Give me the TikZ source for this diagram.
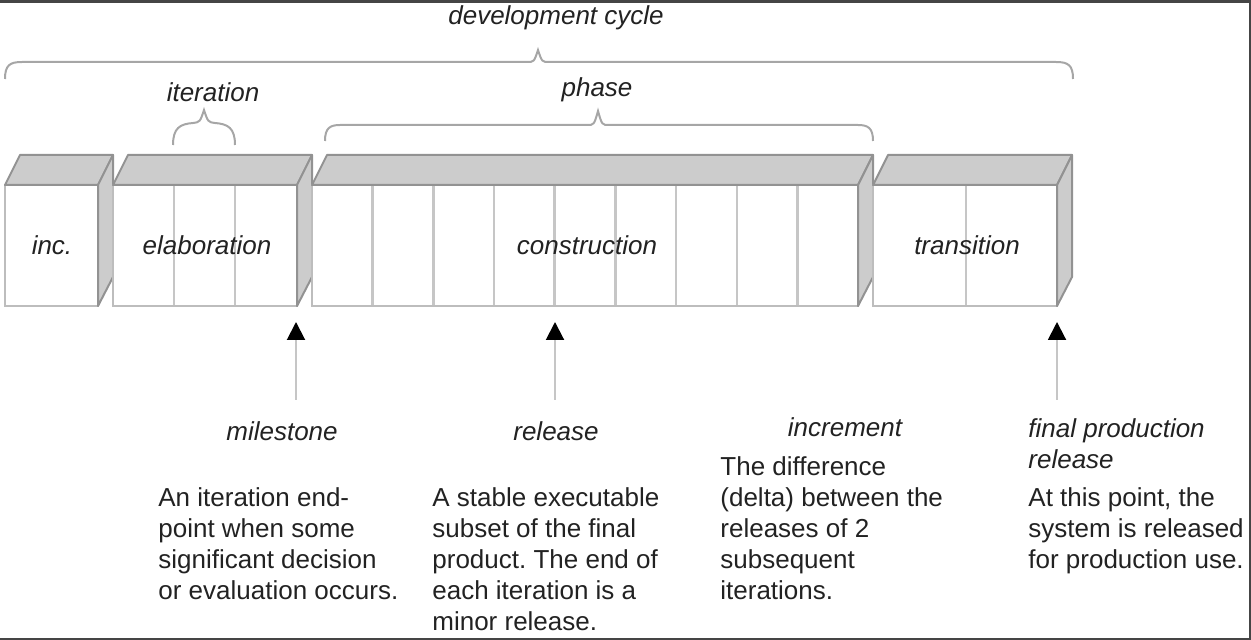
\documentclass[tikz,border=0pt]{standalone}
\usepackage{fontspec}
\setmainfont{Liberation Sans}
\usetikzlibrary{arrows.meta}
\frenchspacing
\definecolor{facegray}{HTML}{CCCCCC}
\definecolor{edgegray}{HTML}{929292}
\definecolor{frontgray}{HTML}{BDBDBD}
\definecolor{linegray}{HTML}{C6C6C6}
\definecolor{bracegray}{HTML}{A6A6A6}
\definecolor{framegray}{HTML}{454545}
\definecolor{inkgray}{HTML}{222222}
\tikzset{
  phaselabel/.style={font=\fontsize{13}{15.5}\selectfont\itshape, text=inkgray, inner sep=0pt},
  desc/.style={font=\fontsize{13}{15.5}\selectfont, text=inkgray, align=left, anchor=north west, inner sep=0pt},
  topface/.style={fill=facegray, draw=edgegray, line width=1pt, line join=round},
  frontface/.style={fill=white, draw=frontgray, line width=1pt},
  iterline/.style={draw=linegray, line width=1.2pt},
  brace/.style={draw=bracegray, line width=1pt},
  pointer/.style={draw=linegray, line width=1pt, -{Triangle[width=9pt,length=9pt,black]}}
}
\begin{document}
\begin{tikzpicture}[x=0.5pt,y=-0.5pt]
\useasboundingbox (0,0) rectangle (1251,640);
% frame
\fill[framegray] (0,0) rectangle (1251,3.5);
\draw[framegray, line width=1pt] (1249.5,3) -- (1249.5,640);
\draw[framegray, line width=1pt] (0,638.5) -- (1251,638.5);

% the four phases as boxes
\foreach \xa/\xb in {5/98, 113/297, 312/858, 873/1057}{
  \draw[frontface] (\xa,185) rectangle (\xb,306);
  \draw[topface] (\xa,185) -- ({\xa+15},155) -- ({\xb+15},155) -- (\xb,185) -- cycle;
  \draw[topface] (\xb,185) -- ({\xb+15},155) -- ({\xb+15},277) -- (\xb,306) -- cycle;
}
% iterations
\foreach \x in {174,235, 966}
  \draw[iterline] (\x,186) -- (\x,305);
\foreach \k in {1,...,8}
  \draw[iterline] ({312+\k*60.67},186) -- ({312+\k*60.67},305);

\node[phaselabel] (inc) at (52,245) {inc.};
\node[phaselabel] (elab) at (207,245) {elaboration};
\node[phaselabel] (cons) at (587,245) {construction};
\node[phaselabel] (trans) at (967,245) {transition};

% braces
\draw[brace] (5,79) .. controls (5,65) and (10,62) .. (22,62) -- (527,62)
  .. controls (534,62) .. (538,50) .. controls (542,62) .. (549,62) -- (1056,62)
  .. controls (1068,62) and (1073,65) .. (1073,79);
\draw[brace] (325,141) .. controls (325,128) and (330,125) .. (340,125) -- (587,125)
  .. controls (594,125) .. (598,111) .. controls (602,125) .. (609,125) -- (858,125)
  .. controls (868,125) and (873,128) .. (873,141);
\draw[brace] (173,145) .. controls (173,128) and (180,124) .. (193,123)
  .. controls (200,122) .. (204,110) .. controls (208,122) .. (215,123)
  .. controls (228,124) and (235,128) .. (235,145);

\node[phaselabel] (cycle) at (556,18) {development cycle};
\node[phaselabel] (iter) at (213,92) {iteration};
\node[phaselabel] (phase) at (597,90) {phase};

% pointers
\coordinate (msTip) at (296,322);
\coordinate (msFoot) at (296,400);
\coordinate (relTip) at (555,322);
\coordinate (relFoot) at (555,400);
\coordinate (finTip) at (1057,322);
\coordinate (finFoot) at (1057,400);
\draw[pointer] (msFoot) -- (msTip);
\draw[pointer] (relFoot) -- (relTip);
\draw[pointer] (finFoot) -- (finTip);

% terms
\node[phaselabel, anchor=base] (milestone) at (282,441) {milestone};
\node[phaselabel, anchor=base] (release) at (556,441) {release};
\node[phaselabel, anchor=base] (increment) at (845,437) {increment};
\node[phaselabel, anchor=north west, align=left] (final) at (1028,418) {final production\\release};

% explanations
\node[desc] (msText) at (158,487) {An iteration end-\\point when some\\significant decision\\or evaluation occurs.};
\node[desc] (relText) at (432,487) {A stable executable\\subset of the final\\product. The end of\\each iteration is a\\minor release.};
\node[desc] (incText) at (720,456) {The difference\\(delta) between the\\releases of 2\\subsequent\\iterations.};
\node[desc] (finText) at (1028,487) {At this point, the\\system is released\\for production use.};
\end{tikzpicture}
\end{document}
